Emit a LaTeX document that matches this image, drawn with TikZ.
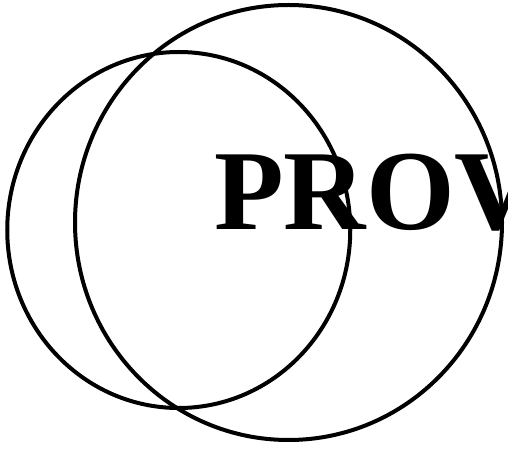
\documentclass[tikz,border=0pt]{standalone}
\usepackage{fontspec}
\setmainfont{Liberation Serif}
\usetikzlibrary{positioning}
\definecolor{inkblack}{HTML}{000000}
\tikzset{
  ring/.style={draw=inkblack, line width=4pt},
  stamp/.style={font=\fontsize{114}{114}\selectfont\bfseries, inner sep=0pt, anchor=base west, text=inkblack}
}

\begin{document}
\begin{tikzpicture}[x=1pt, y=1pt]
  % page: 508 x 450, origin at bottom left
  \useasboundingbox (0,0) rectangle (508,450);
  \clip (0,0) rectangle (508,450);

  % ===== the two overlapping rings =====
  \draw[ring] (178.75,220) ellipse [x radius=171.5, y radius=178];
  \draw[ring] (288.5,227.5) ellipse [x radius=213.5, y radius=217.5];

  % ===== lettering, runs off the right edge =====
  \node[stamp] (prov) at (214,220) {PROV};
\end{tikzpicture}
\end{document}
